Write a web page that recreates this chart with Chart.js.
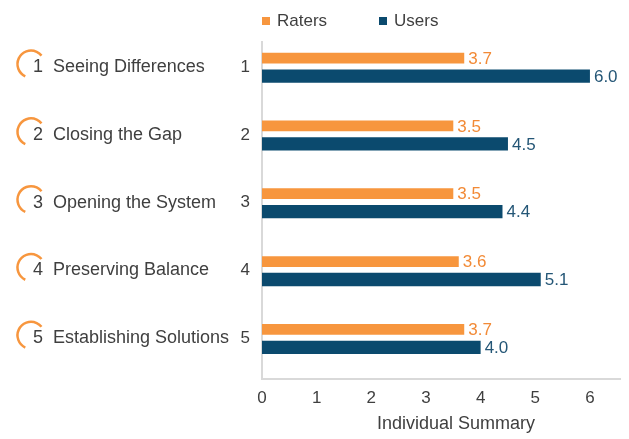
<!DOCTYPE html>
<html>
<head>
<meta charset="utf-8">
<script src="https://cdn.jsdelivr.net/npm/chart.js@4"></script>
<style>
  html, body { margin: 0; padding: 0; background: #fff; }
  #wrap { width: 629px; height: 439px; }
</style>
</head>
<body>
<div id="wrap"><canvas id="chart" width="629" height="439"></canvas></div>
<script>
// chart values
const steps = [1, 2, 3, 4, 5];
const stepNames = ['Seeing Differences', 'Closing the Gap', 'Opening the System', 'Preserving Balance', 'Establishing Solutions'];
const raters = [3.7, 3.5, 3.5, 3.6, 3.7];
const users = [6.0, 4.5, 4.4, 5.1, 4.0];
const xTicks = [0, 1, 2, 3, 4, 5, 6];
const seriesNames = ['Raters', 'Users'];

const ORANGE = '#F7963E';
const BLUE = '#0B4A6E';
const TEXT = '#3f3f3f';
const AXIS = '#D9D9D9';
const FONT = "'Liberation Sans', Arial, sans-serif";

Chart.defaults.font.family = FONT;
Chart.defaults.font.size = 17;
Chart.defaults.color = TEXT;

// left panel: ring icon, step number, step name
const sidePanel = {
  id: 'sidePanel',
  afterDraw(chart) {
    const ctx = chart.ctx;
    const y = chart.scales.y;
    ctx.save();
    steps.forEach((s, i) => {
      const py = y.getPixelForValue(s);
      ctx.beginPath();
      ctx.strokeStyle = ORANGE;
      ctx.lineWidth = 2.5;
      ctx.arc(31, py - 3, 13.5, 115 * Math.PI / 180, 321 * Math.PI / 180);
      ctx.stroke();
      ctx.fillStyle = TEXT;
      ctx.font = '18px ' + FONT;
      ctx.textBaseline = 'middle';
      ctx.textAlign = 'left';
      ctx.fillText(String(s), 33, py);
      ctx.fillText(stepNames[i], 53, py);
    });
    ctx.restore();
  }
};

// value labels next to each bar
const barValues = {
  id: 'barValues',
  afterDatasetsDraw(chart) {
    const ctx = chart.ctx;
    ctx.save();
    ctx.font = '17px ' + FONT;
    ctx.textBaseline = 'middle';
    ctx.textAlign = 'left';
    chart.data.datasets.forEach((ds, di) => {
      const meta = chart.getDatasetMeta(di);
      ctx.fillStyle = ds.labelColor;
      meta.data.forEach((bar, i) => {
        ctx.fillText(ds.data[i].x.toFixed(1), bar.x + 4, bar.y + 1);
      });
    });
    ctx.restore();
  }
};

// legend on top and x axis title
const legendAndTitle = {
  id: 'legendAndTitle',
  afterDraw(chart) {
    const ctx = chart.ctx;
    const left = chart.chartArea.left;
    const x = chart.scales.x;
    ctx.save();
    ctx.font = '17px ' + FONT;
    ctx.textBaseline = 'middle';
    ctx.textAlign = 'left';
    const offs = [0, 117];
    chart.data.datasets.forEach((ds, di) => {
      const lx = left + offs[di];
      ctx.fillStyle = ds.backgroundColor;
      ctx.fillRect(lx, 17, 8, 8);
      ctx.fillStyle = TEXT;
      ctx.fillText(ds.label, lx + 15, 21);
    });
    ctx.font = '18px ' + FONT;
    ctx.textAlign = 'center';
    ctx.fillText('Individual Summary', x.getPixelForValue(3.55), 424);
    ctx.restore();
  }
};

new Chart(document.getElementById('chart'), {
  type: 'bar',
  data: {
    datasets: [
      {
        label: seriesNames[0],
        data: steps.map((s, i) => ({ x: raters[i], y: s })),
        backgroundColor: ORANGE,
        labelColor: '#F28A36',
        categoryPercentage: 0.53,
        barPercentage: 0.6
      },
      {
        label: seriesNames[1],
        data: steps.map((s, i) => ({ x: users[i], y: s })),
        backgroundColor: BLUE,
        labelColor: '#245676',
        categoryPercentage: 0.53,
        barPercentage: 0.74
      }
    ]
  },
  options: {
    indexAxis: 'y',
    responsive: false,
    animation: false,
    layout: { padding: { top: 42, right: 9, left: 0, bottom: 0 } },
    plugins: {
      legend: { display: false },
      tooltip: { enabled: false }
    },
    scales: {
      x: {
        type: 'linear',
        min: 0,
        max: 6.55,
        afterBuildTicks: s => { s.ticks = xTicks.map(v => ({ value: v })); },
        afterFit: s => { s.height = 60; },
        grid: { display: false, drawTicks: false },
        border: { color: AXIS, width: 2 },
        ticks: { padding: 9, color: TEXT }
      },
      y: {
        type: 'linear',
        reverse: true,
        offset: false,
        min: 0.63,
        max: 5.6,
        afterBuildTicks: s => { s.ticks = steps.map(v => ({ value: v })); },
        afterFit: s => { s.width = 262; },
        grid: { display: false, drawTicks: false, offset: false },
        border: { color: AXIS, width: 2 },
        ticks: { padding: 12, color: TEXT }
      }
    }
  },
  plugins: [sidePanel, barValues, legendAndTitle]
});
</script>
</body>
</html>
